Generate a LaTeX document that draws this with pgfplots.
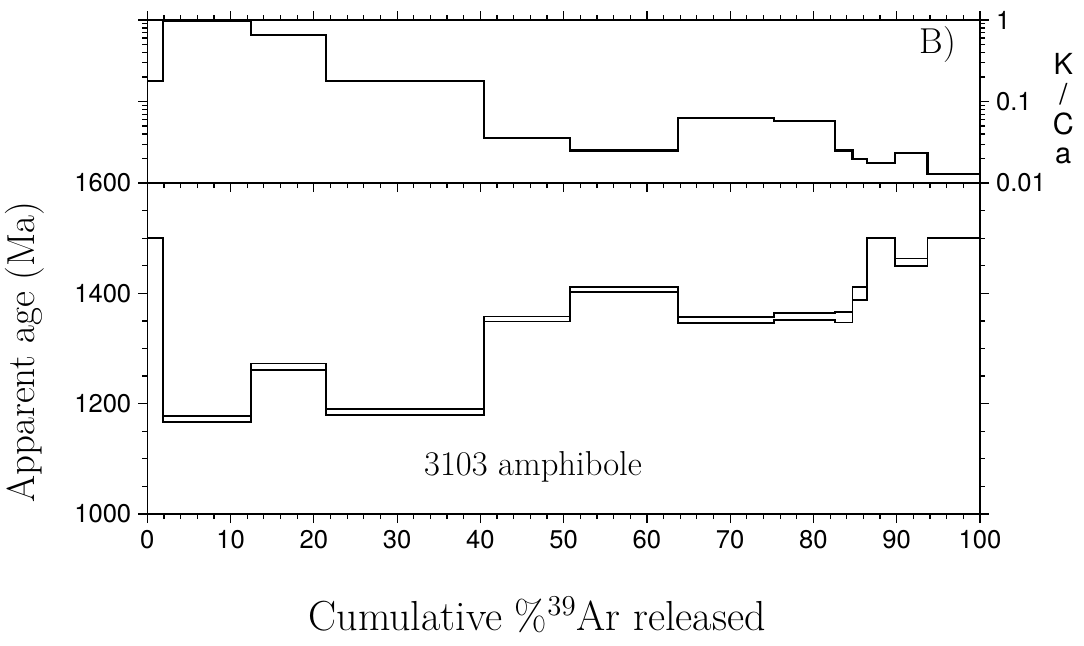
\documentclass[border=0pt]{standalone}
\usepackage{fontspec}
\newfontfamily\hel{TeX Gyre Heros}
\usepackage{pgfplots}
\usepackage{pgfplotstable}
\pgfplotsset{compat=1.18}

% age spectrum: lower and upper edge of each step (Ma)
\pgfplotstableread{
x    lo    hi
0    1500  1500
1.9  1167  1177
12.5 1261  1273
21.5 1180  1191
40.4 1349  1358
50.8 1402  1411
63.7 1346  1357
75.3 1352  1364
82.6 1347  1366
84.7 1388  1412
86.4 1500  1500
89.8 1449  1463
93.7 1500  1500
100  1500  1500
}\agetab

% K/Ca steps
\pgfplotstableread{
x    kca
0    0.18
1.9  0.97
12.5 0.65
21.5 0.18
40.4 0.036
50.8 0.025
63.7 0.063
75.3 0.058
82.6 0.025
84.7 0.0195
86.4 0.0178
89.8 0.0231
93.7 0.0128
100  0.0128
}\kcatab

\pgfplotsset{
  panel/.style={
    scale only axis,
    width=416.35pt,
    xmin=0, xmax=100,
    xtick={0,10,...,100},
    minor x tick num=4,
    axis line style={line width=0.7pt},
    tick style={black, line width=0.6pt},
    tick align=outside,
    major tick length=4.5pt,
    minor tick length=2.5pt,
    tick label style={font=\hel\fontsize{12.8}{14}\selectfont},
    /pgf/number format/assume math mode=true,
  },
}

\begin{document}
\begin{tikzpicture}
\useasboundingbox (-73.65pt,-65.5pt) rectangle (468.35pt,257pt);

% lower panel: apparent age
\begin{axis}[panel,
  at={(0pt,0pt)}, anchor=south west,
  height=165.5pt,
  ymin=1000, ymax=1600,
  ytick={1000,1200,1400,1600},
  minor y tick num=3,
  xtick pos=lower, xticklabel pos=lower,
  ytick pos=both, yticklabel pos=left,
  yticklabel style={/pgf/number format/1000 sep={}},
]
\addplot[const plot, black, line width=0.9pt] table[x=x, y=lo] {\agetab};
\addplot[const plot, black, line width=0.9pt] table[x=x, y=hi] {\agetab};
\end{axis}

% upper panel: K/Ca
\begin{axis}[panel,
  at={(0pt,165.5pt)}, anchor=south west,
  height=81.5pt,
  ymode=log,
  ymin=0.01, ymax=1,
  ytick={0.01,0.1,1},
  yticklabels={0.01,0.1,1},
  xtick pos=both, xticklabels={},
  ytick pos=both, yticklabel pos=right,
]
\addplot[const plot, black, line width=1.1pt] table[x=x, y=kca] {\kcatab};
\end{axis}

\node at (192.9pt,23.5pt) {\fontsize{17.3}{19}\selectfont 3103 amphibole};
\node at (395.3pt,234.5pt) {\fontsize{18}{20}\selectfont B)};
\node[align=center, font=\hel\fontsize{14.5}{14.8}\selectfont] at (458pt,202.5pt) {K\\/\\C\\a};
\node at (194.9pt,-50.5pt) {\fontsize{21}{23}\selectfont Cumulative \%$^{39}$Ar released};
\node[rotate=90] at (-61.2pt,81pt) {\fontsize{19.5}{21}\selectfont Apparent age (Ma)};
\end{tikzpicture}
\end{document}
